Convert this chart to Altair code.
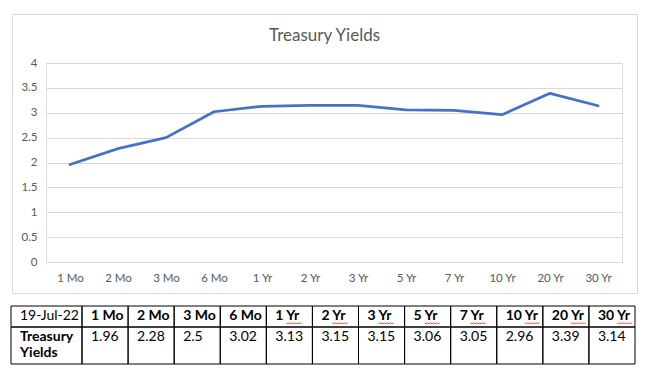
import altair as alt
import pandas as pd

# ---- data ----
tenors = ["1 Mo", "2 Mo", "3 Mo", "6 Mo", "1 Yr", "2 Yr", "3 Yr", "5 Yr", "7 Yr", "10 Yr", "20 Yr", "30 Yr"]
yields = [1.96, 2.28, 2.5, 3.02, 3.13, 3.15, 3.15, 3.06, 3.05, 2.96, 3.39, 3.14]
date_label = "19-Jul-22"
row_label = "Treasury Yields"
chart_title = "Treasury Yields"
y_ticks = [0, 0.5, 1, 1.5, 2, 2.5, 3, 3.5, 4]

# ---- layout ----
W, H = 576, 199
FONT = "Lato"
GREY = "#595959"
TFS = 14
first_w = 71.0
col_w = (624.0 - first_w) / len(tenors)
row_h = [21.0, 37.0]
table_w = first_w + col_w * len(tenors)
table_h = sum(row_h)

line_df = pd.DataFrame({"tenor": tenors, "yield": yields})

line = alt.Chart(line_df).mark_line(
    color="#4472C4", strokeWidth=2.75, strokeCap="round", strokeJoin="round"
).encode(
    x=alt.X("tenor:N", sort=tenors,
            scale=alt.Scale(type="point", padding=0.5),
            axis=alt.Axis(title=None, labelAngle=0, ticks=False, domain=False, grid=False,
                          labelPadding=10, labelFont=FONT, labelFontSize=11.5,
                          labelColor=GREY)),
    y=alt.Y("yield:Q", scale=alt.Scale(domain=[0, 4], nice=False, zero=True),
            axis=alt.Axis(title=None, values=y_ticks, ticks=False, domain=False, format="~g",
                          gridColor="#d9d9d9", gridWidth=1, labelPadding=9,
                          labelFont=FONT, labelFontSize=11.5, labelColor=GREY)),
)

# chart frame
frame = alt.Chart(pd.DataFrame({"k": [0]})).mark_rect(
    fill="white", fillOpacity=0, stroke="#d9d9d9", strokeWidth=1
).encode(
    x=alt.value(-33.5), x2=alt.value(591.5), y=alt.value(-48.5), y2=alt.value(230.5)
)

# chart title as text
title_layer = alt.Chart(pd.DataFrame({"t": [chart_title]})).mark_text(
    align="center", baseline="alphabetic", font=FONT, fontSize=17, color=GREY
).encode(
    text="t:N", x=alt.value(278.5), y=alt.value(-22)
)

# ---- table ----
col_left = [0.0] + [first_w + col_w * i for i in range(len(tenors))]
col_right = [first_w] + [first_w + col_w * (i + 1) for i in range(len(tenors))]
row_top = [0.0, row_h[0]]
cells = []
for r in range(2):
    for c in range(len(col_left)):
        cells.append({"x0": col_left[c], "x1": col_right[c],
                      "y0": row_top[r], "y1": row_top[r] + row_h[r]})
cells_df = pd.DataFrame(cells)

tx = alt.Scale(domain=[0, table_w], range=[-35, -35 + table_w], nice=False, zero=False)
ty = alt.Scale(domain=[0, table_h], range=[243, 243 + table_h], nice=False, zero=False)

cell_layer = alt.Chart(cells_df).mark_rect(
    fill="white", fillOpacity=0, stroke="black", strokeWidth=1
).encode(
    x=alt.X("x0:Q", scale=tx, axis=None),
    x2="x1:Q",
    y=alt.Y("y0:Q", scale=ty, axis=None),
    y2="y1:Q",
)

PAD = 9
base1 = 14.0
base2 = 35.0
header_df = pd.DataFrame({"label": tenors,
                          "tx": [col_left[i + 1] + PAD for i in range(len(tenors))],
                          "ty": [base1] * len(tenors)})
value_df = pd.DataFrame({"label": [date_label] + [f"{v:g}" for v in yields],
                         "tx": [col_left[0] + PAD] + [col_left[i + 1] + PAD for i in range(len(yields))],
                         "ty": [base1] + [base2] * len(yields)})
rowlab_df = pd.DataFrame({"label": [row_label], "tx": [col_left[0] + PAD], "ty": [base2]})

# spell-check squiggles under "Yr" in header cells (zigzag decoration)
DIGIT_W = 0.58 * TFS
SPACE_W = 0.2 * TFS
sq_rows = []
for i, t in enumerate(tenors):
    num, unit = t.split(" ")
    if unit == "Yr":
        x_start = col_left[i + 1] + PAD + len(num) * DIGIT_W + SPACE_W
        for k in range(11):
            sq_rows.append({"g": t, "k": k, "tx": x_start + k * 1.5,
                            "ty": base1 + 2.6 + (k % 2) * 1.5})
sq_df = pd.DataFrame(sq_rows)

def text_layer(df, weight, **kw):
    return alt.Chart(df).mark_text(
        align="left", baseline="alphabetic", font=FONT, fontSize=TFS,
        fontWeight=weight, color="black", **kw
    ).encode(
        x=alt.X("tx:Q", scale=tx, axis=None),
        y=alt.Y("ty:Q", scale=ty, axis=None),
        text="label:N",
    )

header_layer = text_layer(header_df, "bold")
value_layer = text_layer(value_df, "normal")
rowlab_layer = text_layer(rowlab_df, "bold", lineBreak=" ", lineHeight=16)
sq_layer = alt.Chart(sq_df).mark_line(color="#e0201e", strokeWidth=0.8).encode(
    x=alt.X("tx:Q", scale=tx, axis=None),
    y=alt.Y("ty:Q", scale=ty, axis=None),
    detail="g:N",
    order="k:Q",
)

chart = alt.layer(
    frame, title_layer, line, cell_layer, header_layer, value_layer, rowlab_layer, sq_layer
).resolve_scale(
    x="independent", y="independent"
).properties(
    width=W, height=H,
    padding={"left": 38, "top": 55, "right": 16, "bottom": 103},
    autosize=alt.AutoSizeParams(type="none"),
).configure_view(stroke=None).configure(background="white")

chart.save("out.html", embed_options={"renderer": "svg", "actions": False})
